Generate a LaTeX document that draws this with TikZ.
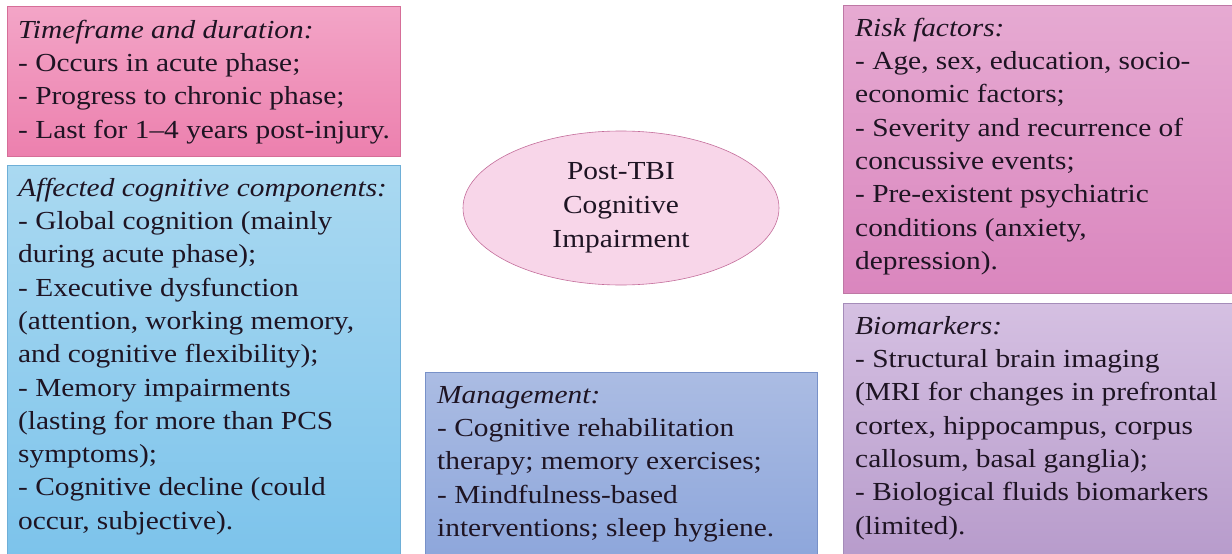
\documentclass[tikz,border=0pt]{standalone}
\usepackage{fontspec}
\setmainfont[FakeStretch=1.13]{Liberation Serif}
\usetikzlibrary{shapes.geometric}
\definecolor{pinkT}{RGB}{243,165,199}
\definecolor{pinkB}{RGB}{236,128,174}
\definecolor{pinkL}{RGB}{214,110,152}
\definecolor{blueT}{RGB}{170,217,241}
\definecolor{blueB}{RGB}{124,195,235}
\definecolor{blueL}{RGB}{110,175,215}
\definecolor{riskT}{RGB}{230,170,210}
\definecolor{riskB}{RGB}{218,134,190}
\definecolor{riskL}{RGB}{190,120,165}
\definecolor{bioT}{RGB}{213,192,226}
\definecolor{bioB}{RGB}{183,155,203}
\definecolor{bioL}{RGB}{165,140,185}
\definecolor{manT}{RGB}{171,188,227}
\definecolor{manB}{RGB}{141,166,219}
\definecolor{manL}{RGB}{120,145,200}
\definecolor{ellF}{RGB}{248,214,233}
\definecolor{ellL}{RGB}{196,110,155}
\definecolor{txt}{RGB}{30,20,35}
\tikzset{
  boxshape/.style={line width=0.6pt},
  boxtext/.style={anchor=north west, inner sep=0pt, align=left, text=txt, font=\fontsize{26}{33.3}\selectfont},
  centre/.style={ellipse, draw=ellL, fill=ellF, line width=0.6pt, minimum width=316pt, minimum height=154pt, align=center, text=txt, inner sep=0pt, font=\fontsize{26}{34}\selectfont}
}
\begin{document}
\begin{tikzpicture}[x=1pt,y=-1pt]
\useasboundingbox (0,0) rectangle (1232,554);
\fill[white] (0,0) rectangle (1232,554);
% boxes
\path[boxshape, draw=pinkL, top color=pinkT, bottom color=pinkB] (7,6) rectangle (400,156);
\path[boxshape, draw=blueL, top color=blueT, bottom color=blueB] (7,165) rectangle (400,560);
\path[boxshape, draw=manL, top color=manT, bottom color=manB] (425,372) rectangle (817,560);
\path[boxshape, draw=riskL, top color=riskT, bottom color=riskB] (843,5) rectangle (1240,293);
\path[boxshape, draw=bioL, top color=bioT, bottom color=bioB] (843,303) rectangle (1240,560);
% texts
\node[boxtext] (time) at (18,14.7)
  {\strut\textit{Timeframe and duration:}\\- Occurs in acute phase;\\- Progress to chronic phase;\\- Last for 1–4 years post-injury.};
\node[boxtext] (aff) at (18,172.7)
  {\strut\textit{Affected cognitive components:}\\- Global cognition (mainly\\during acute phase);\\- Executive dysfunction\\(attention, working memory,\\and cognitive flexibility);\\- Memory impairments\\(lasting for more than PCS\\symptoms);\\- Cognitive decline (could\\occur, subjective).};
\node[boxtext] (man) at (437,379.7)
  {\strut\textit{Management:}\\- Cognitive rehabilitation\\therapy; memory exercises;\\- Mindfulness-based\\interventions; sleep hygiene.};
\node[boxtext] (risk) at (855,12.7)
  {\strut\textit{Risk factors:}\\- Age, sex, education, socio-\\economic factors;\\- Severity and recurrence of\\concussive events;\\- Pre-existent psychiatric\\conditions (anxiety,\\depression).};
\node[boxtext] (bio) at (855,310.7)
  {\strut\textit{Biomarkers:}\\- Structural brain imaging\\(MRI for changes in prefrontal\\cortex, hippocampus, corpus\\callosum, basal ganglia);\\- Biological fluids biomarkers\\(limited).};
\node[centre] (tbi) at (621,208)
  {Post-TBI\\Cognitive\\Impairment};
\end{tikzpicture}
\end{document}
